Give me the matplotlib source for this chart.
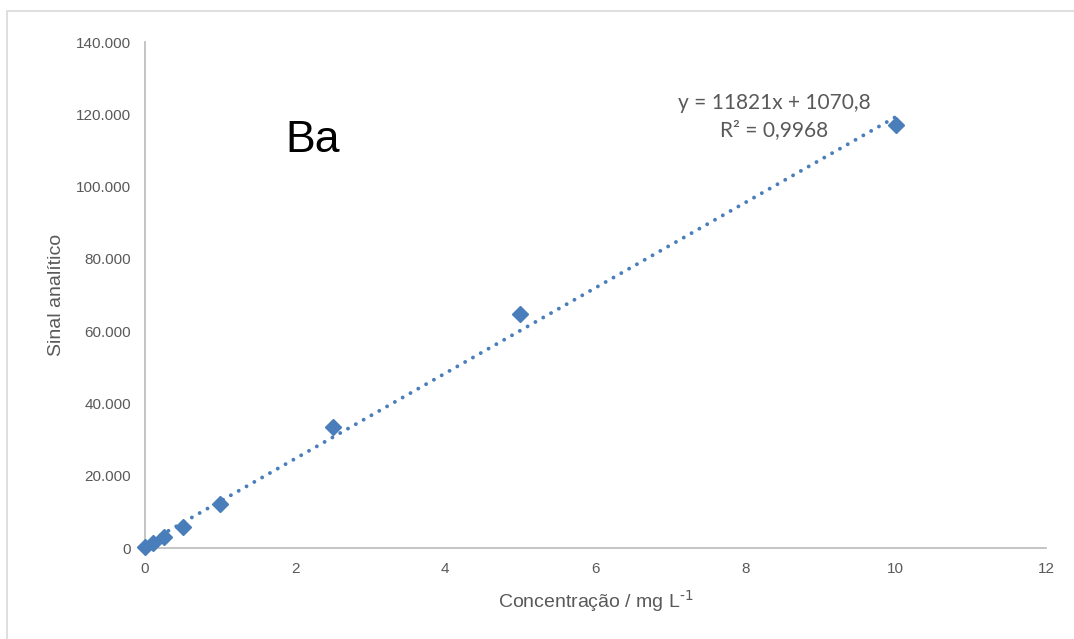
import numpy as np
from matplotlib import pyplot as plt
from matplotlib.ticker import FuncFormatter
from matplotlib.patches import Rectangle

# calibration data (Ba)
conc = [0, 0.1, 0.25, 0.5, 1, 2.5, 5, 10]
signal = [200, 1400, 3050, 5800, 12200, 33500, 64700, 117000]
slope = 11821
intercept = 1070.8
eq_text = "y = 11821x + 1070,8"
r2_text = "R² = 0,9968"

xticks = [0, 2, 4, 6, 8, 10, 12]
yticks = [0, 20000, 40000, 60000, 80000, 100000, 120000, 140000]

plt.rcParams['font.family'] = ['Liberation Sans', 'DejaVu Sans']
gray = '#595959'
blue = '#4a7ebb'

fig = plt.figure(figsize=(10.74, 6.39), dpi=100)
fig.patches.append(Rectangle((7/1074, -0.5), 1.2, 1.5 - 11/639, transform=fig.transFigure,
                             fill=False, edgecolor='#d9d9d9', linewidth=1.2))
ax = fig.add_axes([145/1074, 1 - 548/639, (1046 - 145)/1074, (548 - 42)/639])

# trendline
xt = np.array([0, 10])
ax.plot(xt, slope*xt + intercept, color=blue, linewidth=2.8,
        linestyle=(0, (0.01, 2.3)), dash_capstyle='round', zorder=2)
ax.plot(conc, signal, linestyle='none', marker='D', markersize=8.5,
        color=blue, zorder=3, clip_on=False)

ax.set_xlim(0, 12)
ax.set_ylim(0, 140000)
ax.set_xticks(xticks)
ax.set_yticks(yticks)
ax.yaxis.set_major_formatter(FuncFormatter(lambda v, p: f"{int(v):,}".replace(",", ".")))
ax.tick_params(length=0, labelsize=11, colors=gray, pad=10)
for s in ['top', 'right']:
    ax.spines[s].set_visible(False)
for s in ['left', 'bottom']:
    ax.spines[s].set_color('#bfbfbf')
    ax.spines[s].set_linewidth(1.3)

ax.set_xlabel(r"Concentração / mg L$^{\text{-1}}$", fontsize=14, color=gray, labelpad=9)
ax.set_ylabel("Sinal analítico", fontsize=14, color=gray, labelpad=8)

fig.text(313/1074, 1 - 140/639, "Ba", fontsize=32, color='black', ha='center', va='center')
fig.text(774/1074, 1 - 103/639, eq_text, fontsize=15, color=gray, ha='center', va='center',
         family=['Lato', 'DejaVu Sans'])
fig.text(774/1074, 1 - 130/639, r2_text, fontsize=15, color=gray, ha='center', va='center',
         family=['Lato', 'DejaVu Sans'])

fig.savefig("out.png", dpi=100)
